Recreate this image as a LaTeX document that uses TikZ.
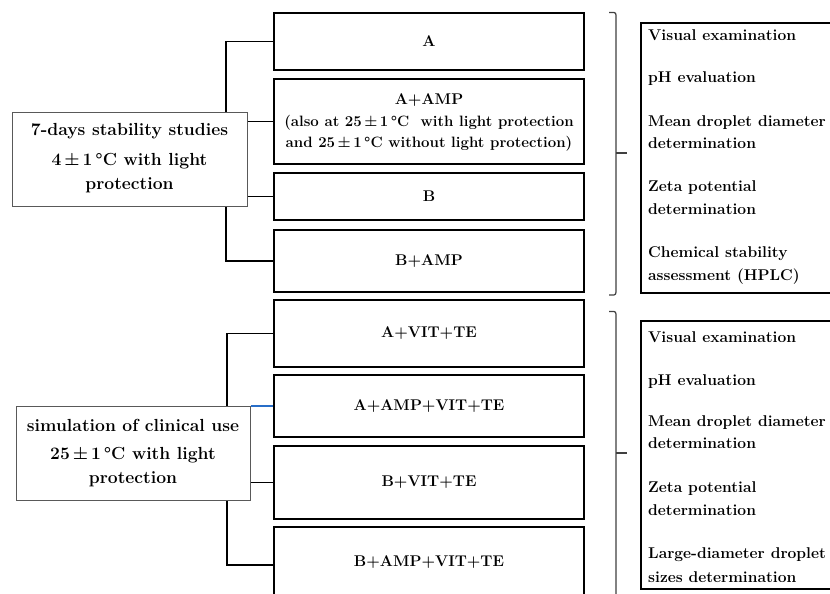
\documentclass[tikz,border=0pt]{standalone}
\usepackage{fontspec}
\begin{document}
\begin{tikzpicture}[x=1pt,y=-1pt,
  every node/.style={font=\fontsize{15.5}{21}\selectfont\bfseries, inner sep=0pt},
  sample/.style={draw=black, line width=1.9pt, fill=white, align=center},
  cond/.style={draw=black!65, line width=1pt, fill=white, align=center},
  condtext/.style={font=\fontsize{17.5}{24}\selectfont\bfseries, align=center},
  tests/.style={draw=black, line width=1.9pt, fill=white},
  conn/.style={draw=black, line width=1.8pt},
  brk/.style={draw=black!75, line width=1.2pt},
  item/.style={anchor=base west, font=\fontsize{15.6}{21}\selectfont\bfseries}
]
\clip (0,0) rectangle (830,594);
\useasboundingbox (0,0) rectangle (830,594);
\fill[white] (0,0) rectangle (830,594);

% coordinates for trunks
\coordinate (t1) at (226,0);
\coordinate (t2) at (227,0);

% ---- top group sample boxes
\node[sample, minimum width=310, minimum height=57] (A) at (429,41.5) {A};
\node[sample, minimum width=310, minimum height=85] (AAMP) at (429,121.5) {};
\node at (429,100) {A+AMP};
\node[align=center, font=\fontsize{15}{21}\selectfont\bfseries] at (429,133) {(also at 25\,\textpm\,1\,\textdegree C~ with light protection\\and 25\,\textpm\,1\,\textdegree C without light protection)};
\node[sample, minimum width=310, minimum height=47] (B) at (429,196.5) {B};
\node[sample, minimum width=310, minimum height=62] (BAMP) at (429,261) {B+AMP};

% ---- bottom group sample boxes
\node[sample, minimum width=310, minimum height=67] (AVT) at (429,333.5) {A+VIT+TE};
\node[sample, minimum width=310, minimum height=62] (AAVT) at (429,406) {A+AMP+VIT+TE};
\node[sample, minimum width=310, minimum height=73] (BVT) at (429,482.5) {B+VIT+TE};
\node[sample, minimum width=310, minimum height=76] (BAVT) at (429,565) {};
\node at (429,562) {B+AMP+VIT+TE};

% ---- trunks (behind condition boxes)
\draw[conn] (A.west) -- (A.west -| t1) -- (BAMP.west -| t1) -- (BAMP.west);
\draw[conn] (AVT.west) -- (AVT.west -| t2) -- (BAVT.west -| t2) -- (BAVT.west);

% ---- condition boxes
\node[cond, minimum width=235, minimum height=94] (S1) at (129.5,159) {};
\node[condtext] at (129.5,131) {7-days stability studies};
\node[condtext] at (129.5,173) {4\,\textpm\,1\,\textdegree C with light\\protection};
\node[cond, minimum width=234, minimum height=94] (S2) at (133,453) {};
\node[condtext] at (133,425) {simulation of clinical use};
\node[condtext] at (133,467) {25\,\textpm\,1\,\textdegree C with light\\protection};

\draw[conn] (S1.east |- AAMP.west) -- (AAMP.west);
\draw[conn] (S1.east |- B.west) -- (B.west);
\draw[line width=1.4pt, draw={rgb,255:red,40;green,110;blue,200}] (S2.east |- AAVT.west) -- (AAVT.west);
\draw[conn] (S2.east |- BVT.west) -- (BVT.west);

% ---- brackets
\draw[brk] (609,12.5) -- (614,12.5) to[out=0,in=90] (616,15) -- (616,292) to[out=-90,in=0] (614,295) -- (609,295);
\draw[brk] (616,153) -- (627,153);
\draw[brk] (609,311.5) -- (614,311.5) to[out=0,in=90] (616,314) -- (616,600);
\draw[brk] (616,453) -- (627,453);

% ---- tests boxes
\node[tests, anchor=north west, minimum width=200, minimum height=270] (T1) at (640,22) {};
\node[tests, anchor=north west, minimum width=200, minimum height=268] (T2) at (640,320) {};

\node[item] at (648,41) {Visual examination};
\node[item] at (648,83) {pH evaluation};
\node[item] at (648,126) {Mean droplet diameter};
\node[item] at (648,148) {determination};
\node[item] at (648,191) {Zeta potential};
\node[item] at (648,214) {determination};
\node[item] at (648,257) {Chemical stability};
\node[item] at (648,280) {assessment (HPLC)};

\node[item] at (648,342) {Visual examination};
\node[item] at (648,385) {pH evaluation};
\node[item] at (648,426) {Mean droplet diameter};
\node[item] at (648,448) {determination};
\node[item] at (648,492) {Zeta potential};
\node[item] at (648,515) {determination};
\node[item] at (648,558) {Large-diameter droplet};
\node[item] at (648,582) {sizes determination};
\end{tikzpicture}
\end{document}
